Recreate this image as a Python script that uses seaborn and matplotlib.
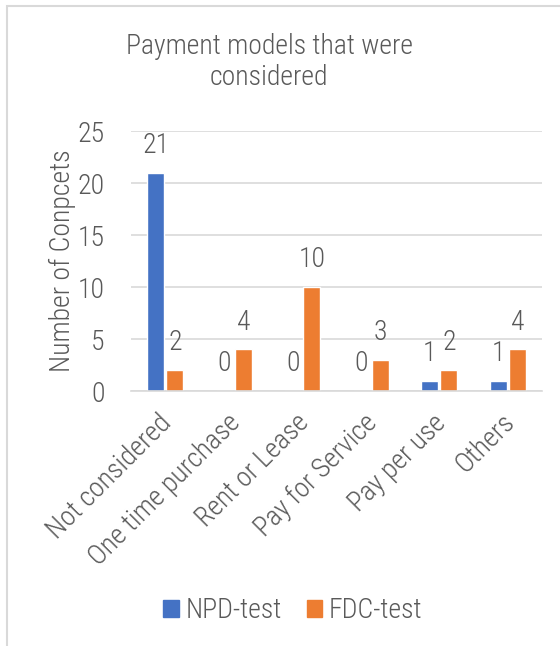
import matplotlib
matplotlib.use("Agg")
import matplotlib.pyplot as plt
import seaborn as sns
import pandas as pd
from matplotlib import font_manager
from matplotlib.patches import Rectangle, Patch
from matplotlib.transforms import ScaledTranslation

categories = ["Not considered", "One time purchase", "Rent or Lease",
              "Pay for Service", "Pay per use", "Others"]
npd_values = [21, 0, 0, 0, 1, 1]
fdc_values = [2, 4, 10, 3, 2, 4]
series_names = ["NPD-test", "FDC-test"]
y_ticks = [0, 5, 10, 15, 20, 25]

df = pd.DataFrame({
    "category": categories * 2,
    "value": npd_values + fdc_values,
    "series": [series_names[0]] * len(categories) + [series_names[1]] * len(categories),
})

sns.set_style("white")
names = {f.name for f in font_manager.fontManager.ttflist}
fam = [f for f in ["Roboto Condensed", "Roboto", "DejaVu Sans"] if f in names]
plt.rcParams["font.family"] = fam
plt.rcParams["font.weight"] = "light"

TXT = "#595959"
GRID = "#d9d9d9"
COLORS = ["#4472C4", "#ED7D31"]

fig = plt.figure(figsize=(5.6, 6.46), dpi=100)
ax = fig.add_axes([131/560, (646-391)/646, 411/560, 260/646])

sns.barplot(data=df, x="category", y="value", hue="series", order=categories,
            hue_order=series_names, palette=COLORS, saturation=1,
            width=0.56, gap=0.12, ax=ax, legend=False, errorbar=None)

for cont in ax.containers:
    ax.bar_label(cont, padding=10, fontsize=20, color=TXT, fontweight="light")

ax.set_ylim(0, 25)
ax.set_yticks(y_ticks)
ax.yaxis.grid(True, color=GRID, linewidth=1.2)
ax.set_axisbelow(True)
for s in ["top", "right", "left"]:
    ax.spines[s].set_visible(False)
ax.spines["bottom"].set_color(GRID)
ax.spines["bottom"].set_linewidth(1.2)
ax.tick_params(axis="y", length=0, labelsize=20, labelcolor=TXT, pad=19)
ax.tick_params(axis="x", length=0, labelsize=20, labelcolor=TXT, pad=13)
ax.set_xticks(range(len(categories)))
ax.set_xticklabels(categories, rotation=45, ha="right", rotation_mode="anchor")
off = ScaledTranslation(-7/100, 0, fig.dpi_scale_trans)
for lab in ax.get_xticklabels():
    lab.set_transform(lab.get_transform() + off)
    lab.set_fontweight("light")
for lab in ax.get_yticklabels():
    lab.set_fontweight("light")
ax.set_xlabel("")
ax.set_ylabel("Number of Conpcets", fontsize=20, color=TXT, labelpad=1,
              fontweight="light")

fig.text(269/560, 1 - 62/646, "Payment models that were\nconsidered", ha="center",
         va="center", fontsize=20, color=TXT, linespacing=1.15, fontweight="light")

handles = [Patch(color=COLORS[0]), Patch(color=COLORS[1])]
fig.legend(handles, series_names, loc="center", bbox_to_anchor=(293/560, 1 - 611/646),
           ncol=2, frameon=False, fontsize=20, labelcolor=TXT, handlelength=0.55,
           handleheight=0.55, handletextpad=0.25, columnspacing=0.9)

fig.patches.append(Rectangle((7/560, -0.1), 1.2, 1 - 6/646 + 0.1, transform=fig.transFigure,
                             fill=False, edgecolor=GRID, linewidth=1.5, zorder=-1))

fig.savefig("out.png", dpi=100, facecolor="white")
